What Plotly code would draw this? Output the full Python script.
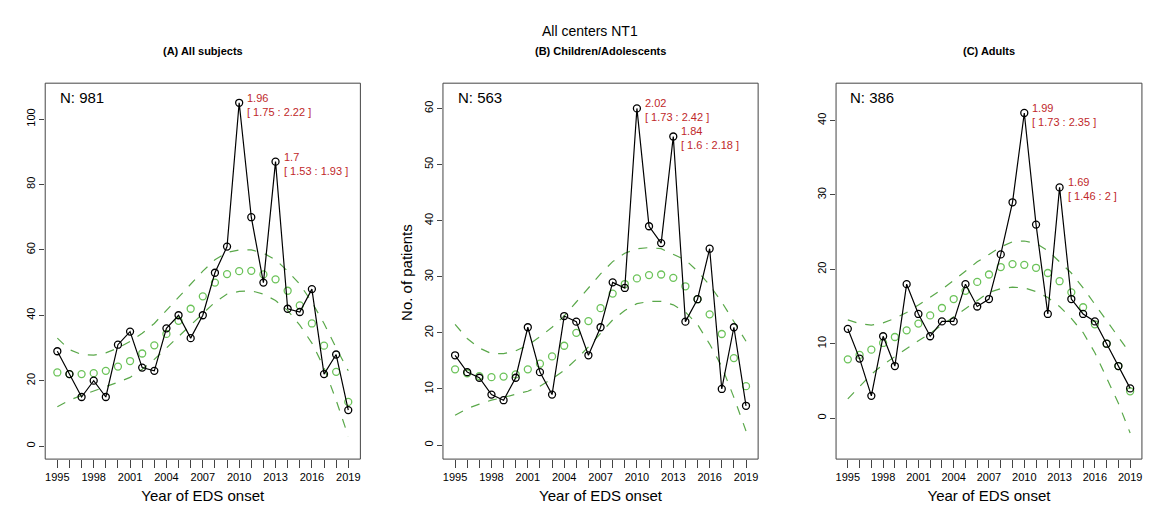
import plotly.graph_objects as go

years = list(range(1995, 2020))

obs_a = [29,22,15,20,15,31,35,24,23,36,40,33,40,53,61,105,70,50,87,42,41,48,22,28,11]
fit_a = [22.5,22,22,22.3,23,24.3,26,28.3,30.8,34.3,38.3,42,45.8,50,52.6,53.5,53.6,52.5,51,47.5,43,37.5,30.7,22.7,13.5]
up_a = [33,29.5,28,27.8,28.5,30,32,34.5,37.5,41.5,45.5,49.5,53.5,57,59.2,60,60,59,57,53.5,49.5,44,37.5,30,23]
lo_a = [12,14,15.5,16.8,18,19.5,21,23.5,26.5,30,33.5,37,40.5,44,46.5,47.3,47.5,46.5,44.5,41.5,37,31.5,24,14,3]

obs_b = [16,13,12,9,8,12,21,13,9,23,22,16,21,29,28,60,39,36,55,22,26,35,10,21,7]
fit_b = [13.5,12.8,12.3,12.1,12.2,12.6,13.5,14.5,15.8,17.7,20,22.1,24.4,27,28.7,29.7,30.3,30.4,29.8,28.3,26,23.3,19.8,15.5,10.5]
up_b = [21.5,19,17.3,16.3,16.3,16.8,17.8,19.3,21,23,25.5,28,30.5,32.7,34.2,35,35.2,35,34,33,31,28.5,25.5,22,18.5]
lo_b = [5.3,6.5,7.3,8,8.5,9,9.6,10.5,11.8,13.3,15.3,17.5,20,22.3,24,25.2,25.6,25.6,25,23.7,21.5,18,14,8.5,2.5]

obs_c = [12,8,3,11,7,18,14,11,13,13,18,15,16,22,29,41,26,14,31,16,14,13,10,7,4]
fit_c = [7.9,8.5,9.2,10.1,10.9,11.8,12.7,13.8,14.8,16,17.1,18.3,19.3,20.3,20.7,20.6,20.2,19.5,18.4,16.9,14.9,12.6,10,7,3.6]
up_c = [13.2,12.7,12.5,12.8,13.4,14.2,15.2,16.2,17.3,18.5,19.7,21,22,23,23.7,23.8,23.5,22.5,21,19.5,17.5,15.3,13,10.8,8.7]
lo_c = [2.6,4.3,5.9,7.2,8.3,9.4,10.4,11.4,12.5,13.6,14.8,15.9,16.9,17.4,17.6,17.5,17,16.2,15,13.4,11.5,8.8,5.5,2,-2]

panel_titles = ["(A) All subjects", "(B) Children/Adolescents", "(C) Adults"]
n_labels = ["N: 981", "N: 563", "N: 386"]
peak_years = [[2010, 2013], [2010, 2013], [2010, 2013]]
peak_texts = [["1.96<br>[ 1.75 : 2.22 ]", "1.7<br>[ 1.53 : 1.93 ]"],
              ["2.02<br>[ 1.73 : 2.42 ]", "1.84<br>[ 1.6 : 2.18 ]"],
              ["1.99<br>[ 1.73 : 2.35 ]", "1.69<br>[ 1.46 : 2 ]"]]
y_ranges = [[-4, 111], [-2.5, 64.5], [-5.5, 45]]
y_ticks = [[0, 20, 40, 60, 80, 100], [0, 10, 20, 30, 40, 50, 60], [0, 10, 20, 30, 40]]

data = [(obs_a, fit_a, up_a, lo_a), (obs_b, fit_b, up_b, lo_b), (obs_c, fit_c, up_c, lo_c)]
x_domains = [[0.032, 0.303], [0.374, 0.645], [0.712, 0.975]]
y_domain = [0.112, 0.852]
green = "#6cc35a"
dgreen = "#5aa84a"

fig = go.Figure()
for i, (obs, fit, up, lo) in enumerate(data):
    xa = "x" if i == 0 else f"x{i+1}"
    ya = "y" if i == 0 else f"y{i+1}"
    for band in (up, lo):
        fig.add_trace(go.Scatter(x=years, y=band, mode="lines", xaxis=xa, yaxis=ya,
                                 line=dict(color=dgreen, dash="dash", width=1.2), showlegend=False))
    fig.add_trace(go.Scatter(x=years, y=fit, mode="markers", xaxis=xa, yaxis=ya,
                             marker=dict(symbol="circle-open", color=green, size=7, line=dict(width=1.3)),
                             showlegend=False))
    fig.add_trace(go.Scatter(x=years, y=obs, mode="lines+markers", xaxis=xa, yaxis=ya,
                             line=dict(color="black", width=1.2),
                             marker=dict(symbol="circle-open", color="black", size=7, line=dict(width=1.3)),
                             showlegend=False))
    sfx = "" if i == 0 else str(i + 1)
    fig.update_layout({
        f"xaxis{sfx}": dict(domain=x_domains[i], range=[1994.0, 2020.0], anchor=ya,
                            tickmode="array", tickvals=years,
                            ticktext=[str(y) if (y - 1995) % 3 == 0 else "" for y in years],
                            ticks="outside", ticklen=8, showgrid=False, zeroline=False,
                            showline=False, tickfont=dict(size=11, color="black"),
                            title=dict(text="Year of EDS onset", font=dict(size=15, color="black"), standoff=8)),
        f"yaxis{sfx}": dict(domain=y_domain, range=y_ranges[i], anchor=xa,
                            tickvals=y_ticks[i], ticks="outside", ticklen=5, tickangle=-90,
                            showgrid=False, zeroline=False, showline=False,
                            tickfont=dict(size=11, color="black")),
    })
    fig.add_shape(type="rect", xref=f"{xa} domain", yref=f"{ya} domain", x0=0, x1=1, y0=0, y1=1,
                  line=dict(color="#444", width=1))
    fig.add_annotation(text=n_labels[i], xref=f"{xa} domain", yref=f"{ya} domain", x=0.04, y=0.99,
                       xanchor="left", yanchor="top", showarrow=False, font=dict(size=15, color="black"))
    fig.add_annotation(text=f"<b>{panel_titles[i]}</b>", xref="paper", yref="paper",
                       x=sum(x_domains[i]) / 2, y=0.915, xanchor="center", yanchor="middle",
                       showarrow=False, font=dict(size=11, color="black"))
    for yr, txt in zip(peak_years[i], peak_texts[i]):
        yv = obs[years.index(yr)]
        fig.add_annotation(text=txt, x=yr, y=yv, xref=xa, yref=ya, xanchor="left", yanchor="middle",
                           xshift=6, yshift=-2, showarrow=False, align="left",
                           font=dict(size=11, color="#c0282a"))

fig.add_annotation(text="No. of patients", xref="paper", yref="paper", x=0.333, y=0.48,
                   textangle=-90, showarrow=False, font=dict(size=15, color="black"))
fig.add_annotation(text="All centers NT1", xref="paper", yref="paper", x=0.5, y=0.975,
                   showarrow=False, font=dict(size=14, color="black"))

fig.update_layout(width=1163, height=508, margin=dict(l=0, r=0, t=0, b=0),
                  paper_bgcolor="white", plot_bgcolor="white",
                  font=dict(family="Liberation Sans, Arial, sans-serif"))
fig.write_html("out.html")
